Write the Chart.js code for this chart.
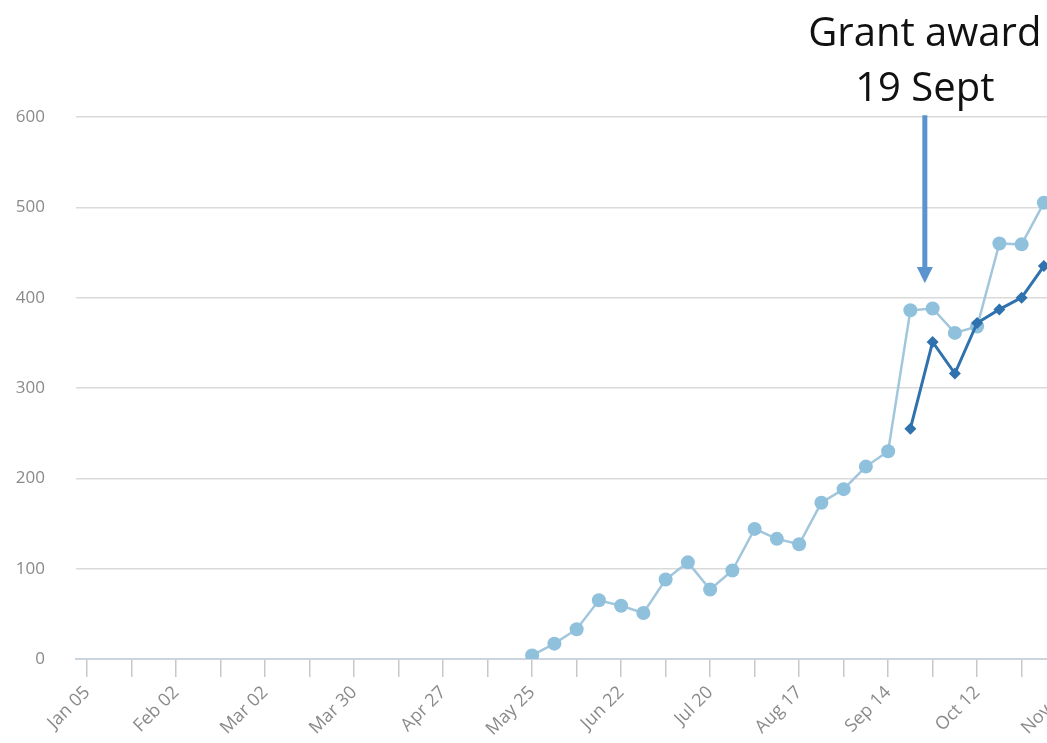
<!DOCTYPE html>
<html>
<head>
<meta charset="utf-8">
<script src="https://cdn.jsdelivr.net/npm/chart.js@4/dist/chart.umd.min.js"></script>
<style>
  html, body { margin: 0; padding: 0; background: #fff; overflow: hidden; }
  #wrap { width: 1047px; height: 743px; overflow: hidden; position: relative; }
  canvas { display: block; }
</style>
</head>
<body>
<div id="wrap"><canvas id="weekly" width="1250" height="743"></canvas></div>
<script>
// weekly labels, one per week of the year
const weeks = [
  'Jan 05', 'Jan 12', 'Jan 19', 'Jan 26', 'Feb 02', 'Feb 09', 'Feb 16', 'Feb 23',
  'Mar 02', 'Mar 09', 'Mar 16', 'Mar 23', 'Mar 30', 'Apr 06', 'Apr 13', 'Apr 20',
  'Apr 27', 'May 04', 'May 11', 'May 18', 'May 25', 'Jun 01', 'Jun 08', 'Jun 15',
  'Jun 22', 'Jun 29', 'Jul 06', 'Jul 13', 'Jul 20', 'Jul 27', 'Aug 03', 'Aug 10',
  'Aug 17', 'Aug 24', 'Aug 31', 'Sep 07', 'Sep 14', 'Sep 21', 'Sep 28', 'Oct 05',
  'Oct 12', 'Oct 19', 'Oct 26', 'Nov 02', 'Nov 09', 'Nov 16', 'Nov 23', 'Nov 30',
  'Dec 07', 'Dec 14', 'Dec 21', 'Dec 28'
];

// cumulative totals (light series, starts May 25)
const totalA = [
  null, null, null, null, null, null, null, null, null, null,
  null, null, null, null, null, null, null, null, null, null,
  4, 17, 33, 65, 59, 51, 88, 107, 77, 98,
  144, 133, 127, 173, 188, 213, 230, 386, 388, 361,
  368, 460, 459, 505, null, null, null, null, null, null,
  null, null
];

// second series (dark, starts Sep 21)
const totalB = [
  null, null, null, null, null, null, null, null, null, null,
  null, null, null, null, null, null, null, null, null, null,
  null, null, null, null, null, null, null, null, null, null,
  null, null, null, null, null, null, null, 255, 351, 316,
  372, 387, 400, 435, null, null, null, null, null, null,
  null, null
];

const yTicks = [0, 100, 200, 300, 400, 500, 600];

const grantNote = ['Grant award', '19 Sept'];

const fontFamily = '"Open Sans", "DejaVu Sans", sans-serif';

// arrow + caption for the grant date
const grantArrow = {
  id: 'grantArrow',
  afterDraw(chart) {
    const { ctx, scales: { x, y } } = chart;
    const ax = x.getPixelForValue(37.65);
    const top = y.getPixelForValue(602);
    const headBase = y.getPixelForValue(434);
    const tip = y.getPixelForValue(416);
    ctx.save();
    ctx.strokeStyle = '#5b93cf';
    ctx.fillStyle = '#5b93cf';
    ctx.lineWidth = 5;
    ctx.beginPath();
    ctx.moveTo(ax, top);
    ctx.lineTo(ax, headBase + 1);
    ctx.stroke();
    ctx.beginPath();
    ctx.moveTo(ax - 8, headBase);
    ctx.lineTo(ax + 8, headBase);
    ctx.lineTo(ax, tip);
    ctx.closePath();
    ctx.fill();

    ctx.fillStyle = '#111';
    ctx.font = '40px ' + fontFamily;
    ctx.textAlign = 'center';
    ctx.textBaseline = 'alphabetic';
    ctx.fillText(grantNote[0], ax, 46);
    ctx.fillText(grantNote[1], ax, 101);
    ctx.restore();
  }
};

new Chart(document.getElementById('weekly'), {
  type: 'line',
  data: {
    labels: weeks,
    datasets: [
      {
        label: 'B',
        data: totalB,
        borderColor: '#2f72ad',
        backgroundColor: '#2f72ad',
        borderWidth: 3,
        pointStyle: 'rectRot',
        pointRadius: 6,
        pointBorderWidth: 0,
        tension: 0
      },
      {
        label: 'A',
        data: totalA,
        borderColor: '#a2c6dc',
        backgroundColor: '#8fc0dc',
        borderWidth: 2.5,
        pointStyle: 'circle',
        pointRadius: 7,
        pointBorderWidth: 0,
        tension: 0
      }
    ]
  },
  options: {
    responsive: false,
    animation: false,
    events: [],
    layout: { padding: { top: 117, left: 0, right: 17, bottom: 0 } },
    plugins: { legend: { display: false }, tooltip: { enabled: false } },
    scales: {
      x: {
        offset: true,
        afterFit(scale) { scale.height = 84; },
        border: { color: '#ccd5dd', width: 2 },
        grid: {
          offset: false,
          drawOnChartArea: false,
          tickLength: 18,
          lineWidth: 1.5,
          color: ctx => (ctx.index % 2 === 0 ? '#c8c8c8' : 'rgba(0,0,0,0)')
        },
        ticks: {
          autoSkip: false,
          maxRotation: 45,
          minRotation: 45,
          padding: 5,
          color: '#8a8a8a',
          font: { family: fontFamily, size: 18 },
          callback: (v, i) => (i % 4 === 0 ? weeks[i] : '')
        }
      },
      y: {
        min: yTicks[0],
        max: yTicks[yTicks.length - 1],
        afterFit(scale) { scale.width = 76; },
        afterBuildTicks(scale) { scale.ticks = yTicks.map(v => ({ value: v })); },
        border: { display: false },
        grid: { color: '#dadada', lineWidth: 1.5, drawTicks: false },
        ticks: { padding: 31, color: '#8a8a8a', font: { family: fontFamily, size: 17 } }
      }
    }
  },
  plugins: [grantArrow]
});
</script>
</body>
</html>
